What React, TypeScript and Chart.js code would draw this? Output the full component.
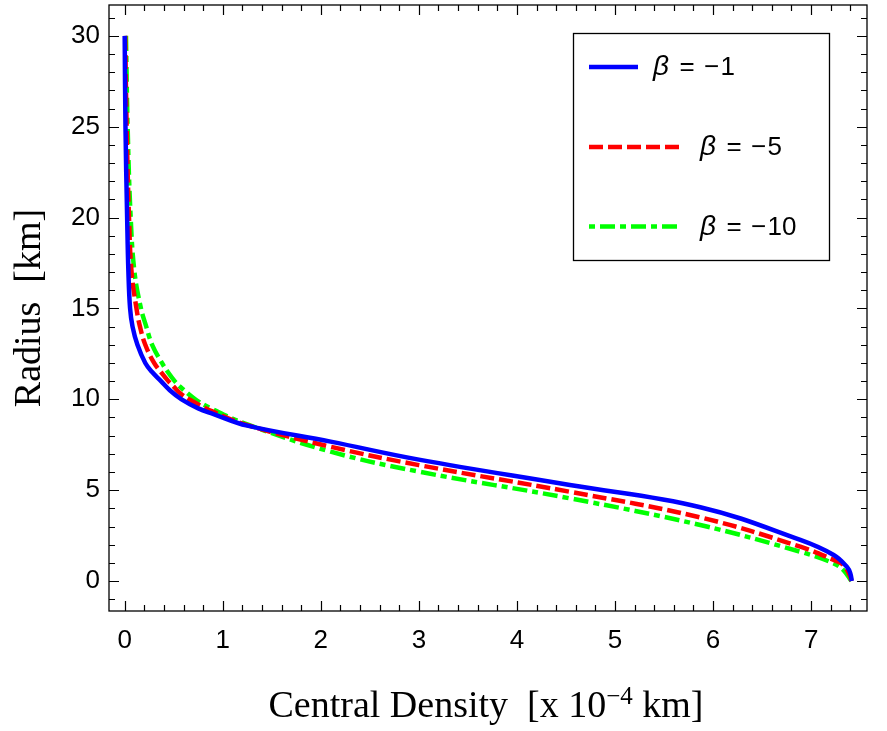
import React, { useEffect, useRef } from "react";
import { Chart, registerables } from "chart.js";

Chart.register(...registerables);

// β parameter of each curve
const betaValues = [-1, -5, -10];

// Central density (x 10^-4 km) against radius (km), one pair of arrays per β
const densityBeta1 = [0.0, 0.008, 0.025, 0.038, 0.055, 0.08, 0.13, 0.21, 0.28, 0.37, 0.46, 0.58, 0.75, 0.9, 1.25, 2.1, 3.0, 4.54, 5.87, 6.89, 7.23, 7.37, 7.4, 7.415];
const radiusBeta1 = [30, 25, 20, 17, 15, 14, 13, 12, 11.5, 11, 10.5, 10, 9.5, 9.2, 8.55, 7.67, 6.68, 5.28, 4.06, 2.26, 1.43, 0.75, 0.42, 0];

const densityBeta5 = [0.005, 0.02, 0.044, 0.07, 0.12, 0.156, 0.21, 0.3, 0.37, 0.445, 0.5, 0.566, 0.67, 0.9, 1.25, 2.1, 3.0, 4.54, 5.87, 6.89, 7.23, 7.33, 7.4, 7.41];
const radiusBeta5 = [30, 25, 20, 17, 15, 14, 13, 12, 11.5, 11, 10.7, 10.33, 9.96, 9.32, 8.58, 7.39, 6.38, 4.91, 3.5, 1.89, 1.16, 0.88, 0.24, 0];

const densityBeta10 = [0.013, 0.03, 0.061, 0.1, 0.166, 0.22, 0.28, 0.38, 0.44, 0.51, 0.566, 0.73, 0.9, 1.25, 2.1, 3.0, 4.54, 5.87, 6.89, 7.23, 7.33, 7.41];
const radiusBeta10 = [30, 25, 20, 17, 15, 14, 13, 12, 11.5, 11, 10.69, 9.96, 9.45, 8.62, 7.12, 6.02, 4.55, 3.08, 1.61, 0.97, 0.6, 0];

// Labelled tick values
const xTickValues = [0, 1, 2, 3, 4, 5, 6, 7];
const yTickValues = [0, 5, 10, 15, 20, 25, 30];

const xTitleMain = "Central Density  [x 10";
const xTitleSup = "\u22124";
const xTitleTail = " km]";
const yTitle = "Radius  [km]";

const seriesColors = ["#0000ff", "#ff0000", "#00ff00"];
const seriesDashes = [[], [14, 5], [15, 5, 6, 5]];

const toPoints = (xs: number[], ys: number[]) => xs.map((x, i) => ({ x, y: ys[i] }));

const SANS = '"Liberation Sans", Arial, sans-serif';
const SERIF = '"Liberation Serif", "Times New Roman", serif';

// Frame with inward ticks on all four sides, axis titles and the boxed legend
const framePlugin = {
  id: "frameTitlesLegend",
  afterDraw(chart: any) {
    const { ctx, chartArea: a, scales } = chart;
    const xs = scales.x;
    const ys = scales.y;
    ctx.save();

    ctx.strokeStyle = "#000";
    ctx.lineWidth = 1.3;
    ctx.strokeRect(a.left, a.top, a.right - a.left, a.bottom - a.top);

    ctx.lineWidth = 1.2;
    ctx.beginPath();
    for (let k = Math.ceil(xs.min * 5); k <= Math.floor(xs.max * 5); k++) {
      const px = Math.round(xs.getPixelForValue(k / 5)) + 0.5;
      const len = k % 5 === 0 ? 10 : 6;
      ctx.moveTo(px, a.bottom);
      ctx.lineTo(px, a.bottom - len);
      ctx.moveTo(px, a.top);
      ctx.lineTo(px, a.top + len);
    }
    for (let k = Math.ceil(ys.min); k <= Math.floor(ys.max); k++) {
      const py = Math.round(ys.getPixelForValue(k)) + 0.5;
      const len = k % 5 === 0 ? 10 : 6;
      ctx.moveTo(a.left, py);
      ctx.lineTo(a.left + len, py);
      ctx.moveTo(a.right, py);
      ctx.lineTo(a.right - len, py);
    }
    ctx.stroke();

    // x axis title with superscript exponent
    ctx.fillStyle = "#000";
    ctx.textBaseline = "alphabetic";
    ctx.textAlign = "left";
    const mainFont = `38px ${SERIF}`;
    const supFont = `25px ${SERIF}`;
    ctx.font = mainFont;
    const wMain = ctx.measureText(xTitleMain).width;
    const wTail = ctx.measureText(xTitleTail).width;
    ctx.font = supFont;
    const wSup = ctx.measureText(xTitleSup).width;
    const total = wMain + wSup + wTail;
    const cx = (a.left + a.right) / 2 - 2;
    let tx = cx - total / 2;
    const baseY = 717;
    ctx.font = mainFont;
    ctx.fillText(xTitleMain, tx, baseY);
    tx += wMain;
    ctx.font = supFont;
    ctx.fillText(xTitleSup, tx, baseY - 13);
    tx += wSup;
    ctx.font = mainFont;
    ctx.fillText(xTitleTail, tx, baseY);

    // y axis title
    ctx.save();
    ctx.translate(30, (a.top + a.bottom) / 2);
    ctx.rotate(-Math.PI / 2);
    ctx.textAlign = "center";
    ctx.textBaseline = "middle";
    ctx.font = mainFont;
    ctx.fillText(yTitle, 0, 0);
    ctx.restore();

    // legend
    const bx = a.right - 294;
    const by = a.top + 28;
    const bw = 256;
    const bh = 227;
    ctx.fillStyle = "#fff";
    ctx.fillRect(bx, by, bw, bh);
    ctx.strokeStyle = "#000";
    ctx.lineWidth = 1.3;
    ctx.strokeRect(bx + 0.5, by + 0.5, bw, bh);
    const rowY = [34, 114, 193.5];
    const swatchLen = [49, 91, 88];
    const textX = [80, 127, 127];
    chart.data.datasets.forEach((ds: any, i: number) => {
      const y = by + rowY[i];
      ctx.strokeStyle = ds.borderColor;
      ctx.lineWidth = ds.borderWidth;
      ctx.lineCap = "butt";
      ctx.setLineDash(ds.borderDash);
      ctx.lineDashOffset = i === 2 ? 20 : 0;
      ctx.beginPath();
      ctx.moveTo(bx + 16, y);
      ctx.lineTo(bx + 16 + swatchLen[i], y);
      ctx.stroke();
      ctx.setLineDash([]);
      ctx.fillStyle = "#000";
      ctx.textAlign = "left";
      ctx.textBaseline = "alphabetic";
      // label reads "β = −n": Greek letter in italic, the rest spaced out
      const parts: string[] = ds.label.split(" ");
      const x0 = bx + textX[i];
      const ty = y + 8;
      ctx.font = `italic 28px ${SANS}`;
      ctx.fillText(parts[0], x0, ty);
      ctx.font = `26px ${SANS}`;
      ctx.fillText(parts[1], x0 + 26.5, ty);
      const minus = parts[2].charAt(0);
      ctx.fillText(minus, x0 + 51, ty);
      ctx.fillText(parts[2].slice(1), x0 + 67.5, ty);
    });

    ctx.restore();
  },
};

export default function App() {
  const canvasRef = useRef<HTMLCanvasElement | null>(null);

  useEffect(() => {
    document.body.style.margin = "0";
    const canvas = canvasRef.current;
    if (!canvas) return;

    const curves = [
      toPoints(densityBeta1, radiusBeta1),
      toPoints(densityBeta5, radiusBeta5),
      toPoints(densityBeta10, radiusBeta10),
    ];

    const chart = new Chart(canvas, {
      type: "line",
      data: {
        datasets: curves.map((pts, i) => ({
          label: `\u03b2 = \u2212${Math.abs(betaValues[i])}`,
          data: pts,
          borderColor: seriesColors[i],
          backgroundColor: seriesColors[i],
          borderWidth: 4.5,
          borderDash: seriesDashes[i],
          borderCapStyle: "butt",
          pointRadius: 0,
          fill: false,
          tension: 0.4,
        })),
      },
      options: {
        animation: false,
        responsive: false,
        devicePixelRatio: 1,
        layout: { padding: { top: 5, right: 20, left: 0, bottom: 0 } },
        plugins: {
          legend: { display: false },
          tooltip: { enabled: false },
        },
        scales: {
          x: {
            type: "linear",
            min: -0.16,
            max: 7.57,
            grid: { display: false, drawTicks: false },
            border: { display: false },
            afterBuildTicks: (scale: any) => {
              scale.ticks = xTickValues.map((v) => ({ value: v }));
            },
            afterFit: (scale: any) => {
              scale.height = 120;
              scale.paddingLeft = 0;
              scale.paddingRight = 0;
            },
            ticks: {
              padding: 14,
              color: "#000",
              maxRotation: 0,
              autoSkip: false,
              font: { family: SANS, size: 26 },
              callback: (v: any) => String(v),
            },
          },
          y: {
            type: "linear",
            min: -1.65,
            max: 31.7,
            grid: { display: false, drawTicks: false },
            border: { display: false },
            afterBuildTicks: (scale: any) => {
              scale.ticks = yTickValues.map((v) => ({ value: v }));
            },
            afterFit: (scale: any) => {
              scale.width = 109;
              scale.paddingTop = 0;
              scale.paddingBottom = 0;
            },
            ticks: {
              padding: 9,
              color: "#000",
              autoSkip: false,
              font: { family: SANS, size: 26 },
              callback: (v: any) => String(v),
            },
          },
        },
      },
      plugins: [framePlugin],
    } as any);

    return () => {
      chart.destroy();
    };
  }, []);

  return (
    <div style={{ width: 887, height: 731, background: "#fff" }}>
      <canvas ref={canvasRef} width={887} height={731} />
    </div>
  );
}
